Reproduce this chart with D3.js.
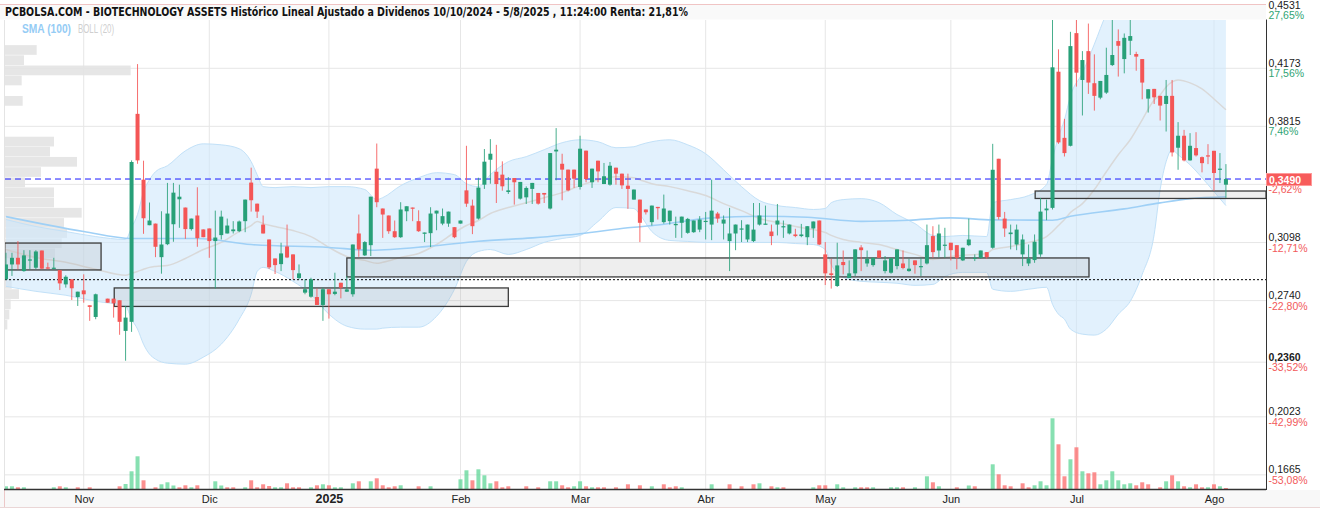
<!DOCTYPE html>
<html><head><meta charset="utf-8">
<script src="https://cdn.jsdelivr.net/npm/d3@7"></script>
<style>body{margin:0;background:#fff}svg{display:block}</style>
</head><body><svg id="c" width="1320" height="512"></svg>
<script>
// ---------- DATA ----------
const openP = [0.2871,0.2963,0.3004,0.2922,0.2990,0.2943,0.3049,0.2945,0.2937,0.2928,
0.2840,0.2871,0.2762,0.2803,0.2711,0.2639,null,0.2752,0.2752,0.2742,
0.2553,0.2609,0.3892,0.3486,0.3205,0.3215,0.3008,0.3088,0.3211,0.3365,
0.3314,0.3181,0.3265,0.3179,0.3185,0.3107,0.3144,0.3154,0.3168,0.3168,
0.3230,0.3468,0.3338,0.3209,0.3117,0.3000,0.2965,0.3074,0.3025,0.2879,
0.2789,0.2764,0.2762,0.2713,0.2810,0.2781,0.2850,0.2795,0.2779,0.3154,
0.3019,0.3082,0.3554,0.3308,0.3265,0.3168,0.3131,0.3291,0.3314,0.3230,
0.3152,0.3156,0.3277,0.3215,0.3215,0.3193,0.3215,0.3420,0.3326,0.3246,
0.3455,0.3609,0.3535,0.3517,0.3410,0.3496,0.3369,0.3377,0.3429,0.3404,
0.3404,0.3308,0.3660,0.3584,0.3548,0.3548,0.3441,0.3665,0.3470,0.3603,
0.3459,0.3455,0.3560,0.3523,0.3449,0.3363,0.3363,0.3302,0.3224,0.3318,
0.3224,0.3230,0.3205,0.3220,0.3158,0.3162,0.3178,0.3228,0.3209,0.3277,
0.3215,0.3107,0.3154,0.3180,0.3117,0.3107,0.3209,0.3209,0.3166,0.3209,
0.3195,0.3154,0.3148,0.3138,0.3131,0.3185,0.3234,0.3025,0.2908,0.2830,
0.2978,0.2879,0.2908,0.3068,0.2969,0.2959,0.3049,0.2922,0.2912,0.2953,
0.2969,0.2922,0.2988,0.2949,0.2969,0.3138,0.3049,0.3080,0.3097,0.3082,
0.2988,0.3082,0.3000,0.3004,0.3039,0.3066,0.3615,0.3246,0.3150,0.3086,
0.3025,0.2969,0.2990,0.3025,0.3297,0.3312,0.4152,0.3744,0.3695,0.4390,
0.4101,0.4279,0.4081,0.3992,0.4023,0.4193,0.4341,0.4230,0.4343,0.4261,
0.4230,0.3986,0.4046,0.4003,0.3953,0.4003,0.3683,0.3757,0.3605,0.3681,
0.3625,0.3636,0.3664,0.3547,0.3455];
const highP = [0.3035,0.3035,0.3107,0.3051,0.3051,0.3051,0.3049,0.2974,0.3004,0.2928,
0.2896,0.2871,0.2795,0.2902,0.2711,0.2783,null,0.2752,0.2752,0.2742,
0.2707,0.3605,0.4199,0.3603,0.3345,0.3215,0.3291,0.3466,0.3466,0.3455,
0.3314,0.3246,0.3439,0.3179,0.3185,0.3295,0.3295,0.3246,0.3230,0.3234,
0.3363,0.3560,0.3338,0.3265,0.3117,0.3000,0.3097,0.3209,0.3025,0.2963,
0.2871,0.2881,0.2814,0.2820,0.2810,0.2912,0.2850,0.2891,0.3086,0.3271,
0.3107,0.3381,0.3709,0.3308,0.3265,0.3234,0.3347,0.3322,0.3314,0.3297,
0.3160,0.3316,0.3295,0.3308,0.3289,0.3193,0.3234,0.3695,0.3363,0.3498,
0.3675,0.3736,0.3701,0.3599,0.3502,0.3496,0.3472,0.3445,0.3466,0.3404,
0.3404,0.3650,0.3804,0.3646,0.3548,0.3548,0.3757,0.3665,0.3554,0.3603,
0.3589,0.3595,0.3560,0.3523,0.3523,0.3425,0.3363,0.3302,0.3326,0.3318,
0.3394,0.3295,0.3258,0.3258,0.3250,0.3234,0.3261,0.3287,0.3486,0.3287,
0.3265,0.3312,0.3209,0.3236,0.3209,0.3342,0.3342,0.3326,0.3209,0.3336,
0.3234,0.3209,0.3183,0.3213,0.3199,0.3228,0.3234,0.3101,0.2998,0.3097,
0.3049,0.2988,0.3056,0.3082,0.3049,0.3004,0.3049,0.3015,0.3002,0.3056,
0.3049,0.2998,0.2988,0.3004,0.3209,0.3199,0.3209,0.3189,0.3097,0.3082,
0.3066,0.3246,0.3025,0.3049,0.3039,0.3707,0.3615,0.3287,0.3209,0.3209,
0.3148,0.3086,0.3148,0.3373,0.3363,0.4520,0.4290,0.3861,0.4398,0.4520,
0.4279,0.4449,0.4259,0.4095,0.4300,0.4520,0.4413,0.4388,0.4520,0.4275,
0.4230,0.4044,0.4046,0.4003,0.4101,0.4101,0.3841,0.3793,0.3773,0.3779,
0.3629,0.3705,0.3664,0.3650,0.3582];
const lowP = [0.2871,0.2892,0.2933,0.2918,0.2933,0.2933,0.2933,0.2933,0.2933,0.2805,
0.2820,0.2744,0.2707,0.2727,0.2615,0.2625,null,0.2727,0.2635,0.2529,
0.2369,0.2547,0.3584,0.3152,0.3205,0.3008,0.2906,0.3082,0.3103,0.3189,
0.3121,0.3172,0.3072,0.3131,0.3004,0.2814,0.3117,0.3154,0.3154,0.3162,
0.3162,0.3289,0.3250,0.3154,0.2935,0.2904,0.2922,0.3002,0.2871,0.2871,
0.2779,0.2758,0.2713,0.2615,0.2629,0.2773,0.2754,0.2793,0.2764,0.3010,
0.3015,0.3015,0.3316,0.3127,0.3152,0.3127,0.3127,0.3230,0.3230,0.3164,
0.3101,0.3070,0.3174,0.3205,0.3195,0.3125,0.3215,0.3318,0.3150,0.3240,
0.3429,0.3461,0.3342,0.3418,0.3398,0.3332,0.3363,0.3336,0.3336,0.3332,
0.3342,0.3302,0.3482,0.3359,0.3414,0.3435,0.3425,0.3470,0.3435,0.3470,
0.3459,0.3449,0.3455,0.3429,0.3306,0.3363,0.3101,0.3271,0.3203,0.3240,
0.3215,0.3209,0.3127,0.3127,0.3152,0.3158,0.3162,0.3117,0.3113,0.3220,
0.3117,0.2922,0.3051,0.3101,0.3101,0.3101,0.3203,0.3209,0.3082,0.3142,
0.3127,0.3148,0.3131,0.3131,0.3082,0.3127,0.3082,0.2836,0.2814,0.2824,
0.2902,0.2879,0.2891,0.2922,0.2949,0.2949,0.3004,0.2908,0.2906,0.2933,
0.2933,0.2918,0.2906,0.2891,0.2963,0.3004,0.3008,0.3004,0.2988,0.2933,
0.2984,0.3076,0.2984,0.2998,0.2998,0.3060,0.3240,0.3133,0.3056,0.3051,
0.2953,0.2953,0.2973,0.3010,0.3236,0.3302,0.3707,0.3629,0.3691,0.4060,
0.3882,0.4015,0.3912,0.3982,0.4015,0.4187,0.4122,0.4142,0.4255,0.4158,
0.3982,0.3900,0.3953,0.3851,0.3783,0.3629,0.3547,0.3599,0.3603,0.3629,
0.3531,0.3582,0.3418,0.3465,0.3373];
const closeP = [0.2963,0.3004,0.2963,0.3019,0.2994,0.3043,0.2937,0.2937,0.2943,0.2846,
0.2887,0.2816,0.2795,0.2779,0.2701,0.2779,null,0.2727,0.2723,0.2609,
0.2635,0.3595,0.3605,0.3248,0.3234,0.3072,0.3086,0.3277,0.3406,0.3381,
0.3181,0.3246,0.3125,0.3131,0.3107,0.3129,0.3258,0.3203,0.3179,0.3228,
0.3363,0.3359,0.3289,0.3154,0.2945,0.2959,0.3031,0.3006,0.2928,0.2908,
0.2810,0.2871,0.2713,0.2810,0.2779,0.2795,0.2820,0.2809,0.3086,0.3056,
0.3101,0.3381,0.3347,0.3271,0.3168,0.3131,0.3302,0.3322,0.3310,0.3168,
0.3160,0.3277,0.3295,0.3261,0.3289,0.3131,0.3234,0.3338,0.3199,0.3437,
0.3597,0.3646,0.3459,0.3445,0.3420,0.3470,0.3472,0.3435,0.3466,0.3338,
0.3394,0.3650,0.3671,0.3548,0.3420,0.3492,0.3677,0.3490,0.3554,0.3537,
0.3507,0.3572,0.3523,0.3451,0.3429,0.3425,0.3220,0.3285,0.3326,0.3310,
0.3308,0.3295,0.3213,0.3258,0.3244,0.3234,0.3240,0.3232,0.3295,0.3246,
0.3240,0.3154,0.3209,0.3185,0.3209,0.3178,0.3265,0.3215,0.3138,0.3234,
0.3199,0.3209,0.3138,0.3148,0.3199,0.3228,0.3086,0.2908,0.2898,0.2957,
0.2959,0.2908,0.3056,0.3051,0.2998,0.3004,0.3004,0.2988,0.3002,0.3056,
0.2941,0.2937,0.2959,0.2953,0.3082,0.3039,0.3154,0.3085,0.3051,0.3004,
0.3066,0.3117,0.3004,0.3049,0.3008,0.3547,0.3256,0.3185,0.3160,0.3178,
0.3117,0.3000,0.3103,0.3289,0.3308,0.4179,0.3716,0.3650,0.4310,0.4146,
0.4224,0.4085,0.4003,0.4095,0.4132,0.4255,0.4312,0.4361,0.4372,0.4245,
0.4085,0.4044,0.3994,0.3943,0.4003,0.3654,0.3757,0.3605,0.3695,0.3636,
0.3588,0.3629,0.3527,0.3554,0.3490];
const volume = [27,27,17,17,0,0,0,0,17,27, 17,0,17,0,17,0,0,0,0,27,
50,177,327,87,0,17,47,67,35,17, 37,17,37,0,0,77,35,17,17,0,
17,87,17,47,30,17,17,57,17,17, 0,17,37,47,37,17,17,0,57,77,
0,77,107,37,17,27,37,0,0,27, 0,27,0,0,0,0,97,187,87,197,
137,57,77,17,27,0,0,27,0,17, 0,77,77,37,17,27,77,27,17,17,
17,0,17,0,47,0,37,0,27,0, 47,17,27,17,0,0,0,0,47,0,
0,47,0,27,0,47,57,0,27,17, 17,0,0,0,0,17,37,37,0,47,
17,0,17,17,17,17,0,0,17,17, 17,0,17,0,127,67,27,0,0,17,
0,35,27,0,0,247,147,37,27,0, 57,17,37,77,37,707,447,127,297,417,
177,157,167,47,87,177,87,47,57,37, 67,47,0,17,77,137,77,27,17,47,
17,17,47,27,10];

const smaIdx = [0,13,21,32,41,54,61,71,79,88,96,104,109,118,126,134,143,151,158,165,175,178,187,193,198,204];
const smaVal = [0.3258,0.3166,0.3123,0.3123,0.3086,0.3068,0.3051,0.3076,0.3106,0.3127,0.3152,0.3189,0.3206,0.3250,0.3260,0.3254,0.3229,0.3236,0.3250,0.3238,0.3236,0.3260,0.3306,0.3343,0.3369,0.3381];

const bbIdx = [0,5,10,15,20,21,22,23,24,25,27,30,33,36,39,41,42,43,45,48,51,54,57,60,62,63,66,69,72,75,77,79,81,84,87,90,93,96,99,102,105,106,108,111,114,117,120,123,126,129,132,135,137,138,140,143,146,149,152,155,157,160,164,165,168,171,174,175,176,177,178,180,182,184,186,188,190,192,193,194,195,196,198,200,202,204];
const bbUp = [0.3240,0.3197,0.3166,0.3135,0.3117,0.3191,0.3271,0.3412,0.3486,0.3535,0.3572,0.3664,0.3707,0.3701,0.3677,0.3597,0.3517,0.3443,0.3437,0.3443,0.3437,0.3443,0.3443,0.3425,0.3363,0.3375,0.3449,0.3498,0.3529,0.3517,0.3461,0.3443,0.3517,0.3597,0.3628,0.3671,0.3714,0.3732,0.3720,0.3683,0.3689,0.3701,0.3720,0.3732,0.3701,0.3646,0.3547,0.3443,0.3357,0.3326,0.3314,0.3302,0.3308,0.3344,0.3363,0.3369,0.3344,0.3271,0.3215,0.3142,0.3135,0.3142,0.3135,0.3344,0.3363,0.3388,0.3455,0.3615,0.3750,0.3855,0.4003,0.4144,0.4322,0.4507,0.4624,0.4728,0.4808,0.4808,0.4593,0.4519,0.4507,0.4562,0.4587,0.4593,0.4556,0.4507];
const bbMid = [0.3055,0.3006,0.2976,0.2933,0.2896,0.2908,0.2920,0.2933,0.2945,0.2951,0.2957,0.3000,0.3055,0.3099,0.3166,0.3203,0.3228,0.3215,0.3197,0.3172,0.3135,0.3068,0.3012,0.2988,0.2970,0.2976,0.3006,0.3031,0.3086,0.3160,0.3203,0.3234,0.3277,0.3314,0.3344,0.3375,0.3406,0.3449,0.3486,0.3504,0.3498,0.3486,0.3461,0.3443,0.3418,0.3388,0.3338,0.3295,0.3246,0.3222,0.3197,0.3178,0.3160,0.3142,0.3117,0.3099,0.3086,0.3055,0.3025,0.2994,0.3006,0.3019,0.3031,0.3055,0.3074,0.3099,0.3135,0.3166,0.3203,0.3240,0.3283,0.3338,0.3425,0.3535,0.3640,0.3732,0.3855,0.3978,0.4009,0.4058,0.4089,0.4101,0.4083,0.4046,0.3984,0.3917];
const bbLow = [0.2828,0.2797,0.2773,0.2736,0.2705,0.2625,0.2564,0.2471,0.2410,0.2379,0.2354,0.2348,0.2391,0.2471,0.2625,0.2779,0.2920,0.2945,0.2920,0.2859,0.2779,0.2656,0.2582,0.2564,0.2564,0.2570,0.2576,0.2576,0.2643,0.2810,0.2982,0.3043,0.3055,0.3025,0.3055,0.3099,0.3123,0.3142,0.3228,0.3314,0.3308,0.3271,0.3166,0.3111,0.3105,0.3099,0.3099,0.3099,0.3099,0.3099,0.3092,0.3086,0.3055,0.2963,0.2883,0.2859,0.2853,0.2847,0.2834,0.2840,0.2889,0.2914,0.2914,0.2810,0.2797,0.2810,0.2822,0.2717,0.2656,0.2625,0.2564,0.2533,0.2527,0.2564,0.2656,0.2736,0.2902,0.3148,0.3425,0.3597,0.3671,0.3640,0.3578,0.3498,0.3412,0.3326];

const profTop = [0.4316,0.4253,0.4190,0.4128,0.4002,0.3751,0.3689,0.3626,0.3563,0.3500,0.3438,0.3375,0.3312,0.3249,0.3187,0.3124,0.3061,0.2873,0.2810,0.2747,0.2684,0.2622];
const profVol = [317,190,1257,167,177,490,450,720,360,200,490,490,767,590,620,567,500,67,140,57,43,23];
const profBin = 0.0060;

// zones: [startIdx, endIdx, low, high]
const zoneStart = [-0.2, 18.1, 57.0, 172.1];
const zoneEnd   = [15.9, 84.0, 181.1, 210.7];
const zoneLow   = [0.2929, 0.2704, 0.2886, 0.3370];
const zoneHigh  = [0.3095, 0.2818, 0.3003, 0.3416];

const lastPrice = 0.3490;
const supportLine = 0.2869;

const tickVals = [0.4531,0.4173,0.3815,0.3457,0.3098,0.2740,0.2360,0.2023,0.1665];
const tickPct = ["27,65%","17,56%","7,46%","-2,62%","-12,71%","-22,80%","-33,52%","-42,99%","-53,08%"];
const monthIdx = [13,34,54,76,96,117,137,158,179,202];
const monthLbl = ["Nov","Dic","2025","Feb","Mar","Abr","May","Jun","Jul","Ago"];
const titleText = "PCBOLSA.COM - BIOTECHNOLOGY ASSETS Histórico Lineal Ajustado a Dividenos 10/10/2024 - 5/8/2025 , 11:24:00 Renta: 21,81%";

// ---------- CHART ----------
const svg = d3.select('#c');
const L = 5, R = 1266, T = 20, B = 489;
const x = d3.scaleLinear().domain([-1, 210.7]).range([0, R]);
const y = d3.scaleLinear().domain([0.15777, 0.4471]).range([B, T]);
const yV = d3.scaleLinear().domain([0, 1000]).range([B, B - 100]);
const xP = d3.scaleLinear().domain([0, 1000]).range([L, L + 100]);
const GREEN = "#27a078", RED = "#f45656";
const fmt = v => d3.format(".4f")(v).replace(".", ",");

svg.append("rect").attr("width",1320).attr("height",512).attr("fill","#fff");
svg.append("defs").append("clipPath").attr("id","pc").append("rect")
  .attr("x",L).attr("y",T).attr("width",R-L).attr("height",B-T);
const g = svg.append("g").attr("clip-path","url(#pc)");

// gridlines
g.selectAll(".hg").data(tickVals.filter(v=>y(v)>T)).join("line")
  .attr("x1",L).attr("x2",R).attr("y1",d=>y(d)).attr("y2",d=>y(d))
  .attr("stroke","#e6e6e6").attr("stroke-width",1);
g.selectAll(".vg").data(monthIdx).join("line")
  .attr("x1",d=>x(d)).attr("x2",d=>x(d)).attr("y1",T).attr("y2",B)
  .attr("stroke","#e6e6e6").attr("stroke-width",1);

const idx = d3.range(openP.length);
const dir = i => { const prev = i>0 && closeP[i-1]!=null ? closeP[i-1] : (i>1?closeP[i-2]:openP[i]); return closeP[i] >= prev; };

// volume bars
g.selectAll(".vb").data(idx.filter(i=>volume[i]>0)).join("rect")
  .attr("x",i=>x(i)-2).attr("width",4)
  .attr("y",i=>yV(volume[i])).attr("height",i=>B-yV(volume[i]))
  .attr("fill",i=>dir(i)?"#5fd597":"#fb6a6a").attr("fill-opacity",0.75);

// volume profile
g.selectAll(".vp").data(d3.range(profTop.length)).join("rect")
  .attr("x",L).attr("y",k=>y(profTop[k]))
  .attr("width",k=>xP(profVol[k])-L)
  .attr("height",k=>y(profTop[k]-profBin)-y(profTop[k]))
  .attr("fill","#e3e3e3").attr("fill-opacity",0.9);

// bollinger band
const bbI = d3.range(bbIdx.length);
g.append("path").datum(bbI)
  .attr("d", d3.area().x(k=>x(bbIdx[k])).y0(k=>y(bbLow[k])).y1(k=>y(bbUp[k])).curve(d3.curveMonotoneX))
  .attr("fill","#cfe8fb").attr("fill-opacity",0.6);
[bbUp,bbLow].forEach(arr=>{
  g.append("path").datum(bbI)
   .attr("d", d3.line().x(k=>x(bbIdx[k])).y(k=>y(arr[k])).curve(d3.curveMonotoneX))
   .attr("fill","none").attr("stroke","#c2e1f8").attr("stroke-width",1);
});
g.append("path").datum(bbI)
  .attr("d", d3.line().x(k=>x(bbIdx[k])).y(k=>y(bbMid[k])).curve(d3.curveMonotoneX))
  .attr("fill","none").attr("stroke","#d9d9d9").attr("stroke-width",1.5);

// SMA 100
g.append("path").datum(d3.range(smaIdx.length))
  .attr("d", d3.line().x(k=>x(smaIdx[k])).y(k=>y(smaVal[k])).curve(d3.curveMonotoneX))
  .attr("fill","none").attr("stroke","#9fd0f6").attr("stroke-width",1.6);

// zones
g.selectAll(".zn").data(d3.range(zoneStart.length)).join("rect")
  .attr("x",k=>x(zoneStart[k])).attr("width",k=>x(zoneEnd[k])-x(zoneStart[k]))
  .attr("y",k=>y(zoneHigh[k])).attr("height",k=>y(zoneLow[k])-y(zoneHigh[k]))
  .attr("fill","rgba(170,170,170,0.2)").attr("stroke","#3c3c3c").attr("stroke-width",1.3);

// lines
g.append("line").attr("x1",L).attr("x2",R).attr("y1",y(supportLine)).attr("y2",y(supportLine))
  .attr("stroke","#000").attr("stroke-width",1).attr("stroke-dasharray","2,2");
g.append("line").attr("x1",L).attr("x2",R).attr("y1",y(lastPrice)).attr("y2",y(lastPrice))
  .attr("stroke","#1a1aff").attr("stroke-width",1).attr("stroke-dasharray","6,4");

// candles
const cd = idx.filter(i=>openP[i]!=null);
const col = i => closeP[i] >= openP[i] ? GREEN : RED;
g.selectAll(".wk").data(cd).join("line")
  .attr("x1",i=>x(i)).attr("x2",i=>x(i)).attr("y1",i=>y(highP[i])).attr("y2",i=>y(lowP[i]))
  .attr("stroke",col).attr("stroke-width",1).attr("stroke-opacity",0.85);
g.selectAll(".bd").data(cd).join("rect")
  .attr("x",i=>x(i)-2).attr("width",4)
  .attr("y",i=>y(Math.max(openP[i],closeP[i])))
  .attr("height",i=>Math.max(1.2, Math.abs(y(openP[i])-y(closeP[i]))))
  .attr("fill",col);

// header
svg.append("rect").attr("x",0).attr("y",4).attr("width",R).attr("height",15.5).attr("fill","#f9f9f9");
svg.append("line").attr("x1",0).attr("x2",R).attr("y1",4.5).attr("y2",4.5).attr("stroke","#f0c4c4");
svg.append("text").attr("x",5).attr("y",16).text(titleText)
  .attr("font-family","'Liberation Sans Narrow','DejaVu Sans Condensed','Liberation Sans',sans-serif")
  .attr("font-weight","bold").attr("font-size",12.5).attr("fill","#111")
  .attr("textLength",683).attr("lengthAdjust","spacingAndGlyphs");
svg.append("text").attr("x",22).attr("y",32.5).text("SMA (100)")
  .attr("font-family","'Liberation Sans',sans-serif").attr("font-weight","bold")
  .attr("font-size",12).attr("fill","#95ccf5")
  .attr("textLength",49).attr("lengthAdjust","spacingAndGlyphs");
svg.append("text").attr("x",78).attr("y",32.5).text("BOLL (20)")
  .attr("font-family","'Liberation Sans',sans-serif")
  .attr("font-size",12).attr("fill","#cfcfcf")
  .attr("textLength",36).attr("lengthAdjust","spacingAndGlyphs");

// left border
svg.append("line").attr("x1",4.5).attr("x2",4.5).attr("y1",T).attr("y2",B).attr("stroke","#e4e4e4");

// bottom axis band
svg.append("rect").attr("x",0).attr("y",B+1).attr("width",1320).attr("height",17).attr("fill","#f8f8f8");
svg.append("line").attr("x1",0).attr("x2",1320).attr("y1",507.5).attr("y2",507.5).attr("stroke","#ead6d6");
svg.append("line").attr("x1",4.5).attr("x2",4.5).attr("y1",B).attr("y2",507).attr("stroke","#ecc8c8");
const xAxis = d3.axisBottom(x).tickValues(monthIdx).tickSize(0).tickPadding(0)
  .tickFormat((d,k)=>monthLbl[k]);
const ax = svg.append("g").attr("transform",`translate(0,${B})`).call(xAxis);
ax.select(".domain").remove();
ax.selectAll("text").attr("dy",null).attr("y",13.5)
  .attr("font-family","'Liberation Sans',Arial,sans-serif").attr("fill","#222")
  .attr("font-weight",(d,k)=>monthLbl[k]==="2025"?"bold":"normal")
  .attr("font-size",(d,k)=>monthLbl[k]==="2025"?12.5:11);
svg.append("line").attr("x1",4).attr("x2",R).attr("y1",B+0.5).attr("y2",B+0.5).attr("stroke","#333").attr("stroke-width",1.3);

// right axis
svg.append("line").attr("x1",R+0.5).attr("x2",R+0.5).attr("y1",19.5).attr("y2",B+1).attr("stroke","#333").attr("stroke-width",1);
const ra = svg.append("g");
tickVals.forEach((v,k)=>{
  const yy = y(v);
  ra.append("text").attr("x",R+2.5).attr("y",yy-1.5).text(fmt(v))
    .attr("font-family","'Liberation Sans',Arial,sans-serif").attr("font-size",10.5)
    .attr("font-weight", v===0.2360?"bold":"normal").attr("fill","#1a1a1a");
  ra.append("text").attr("x",R+2.5).attr("y",yy+9).text(tickPct[k])
    .attr("font-family","'Liberation Sans',Arial,sans-serif").attr("font-size",10.5)
    .attr("fill", tickPct[k].startsWith("-")?"#f25a5a":"#30a474");
});
// last price tag
const ly = y(lastPrice);
ra.append("rect").attr("x",R+0.5).attr("y",ly-5.5).attr("width",45).attr("height",12)
  .attr("fill","#f75b5b").attr("stroke","#f99").attr("stroke-width",1);
ra.append("text").attr("x",R+3).attr("y",ly+4.5).text(fmt(lastPrice))
  .attr("font-family","'Liberation Sans',Arial,sans-serif").attr("font-size",10.5)
  .attr("font-weight","bold").attr("fill","#fff");
</script>
</body></html>
